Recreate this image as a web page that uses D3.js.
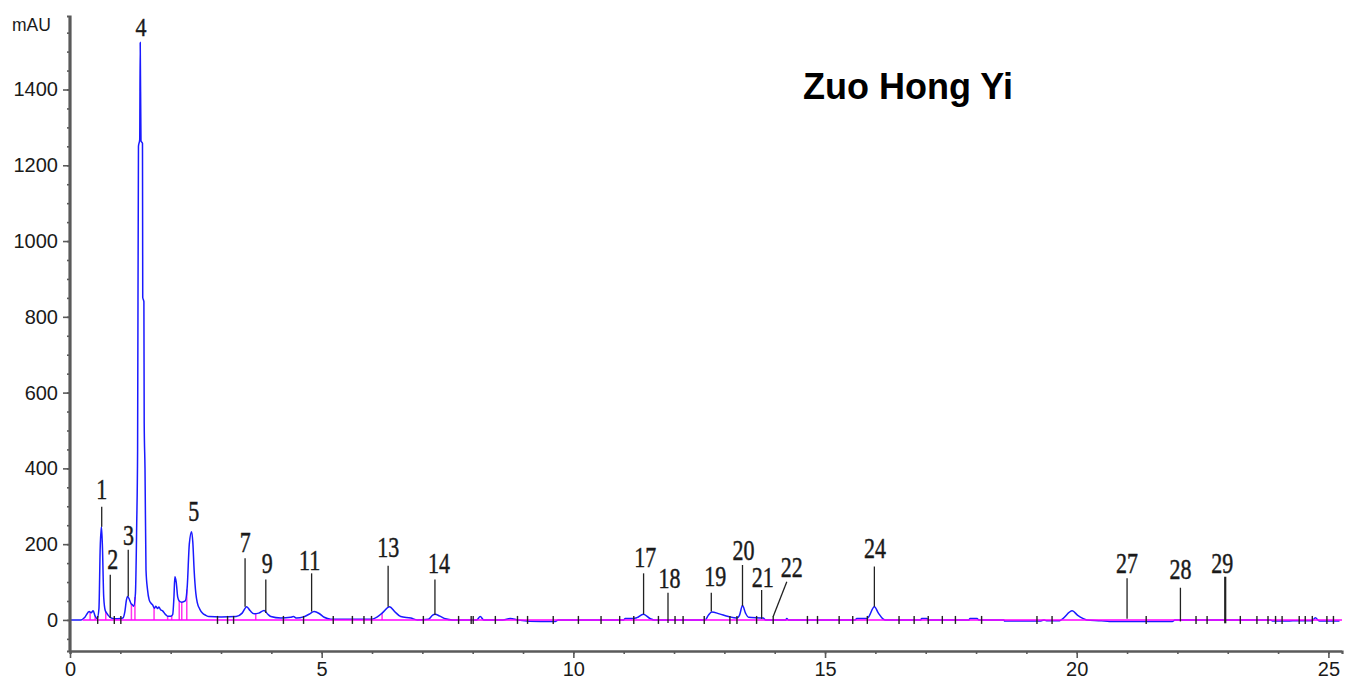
<!DOCTYPE html>
<html>
<head>
<meta charset="utf-8">
<script src="https://cdn.jsdelivr.net/npm/d3@7"></script>
<style>
  body { margin: 0; background: #fff; }
  .axis path, .axis line { stroke: #5a5a5a; }
  .axis text { font-family: "Liberation Sans", Arial, sans-serif; font-size: 20px; fill: #1a1a1a; }
</style>
</head>
<body>
<div id="chart"></div>
<script>
// chromatogram trace (minutes, mAU)
var retentionTime = [0, 0.22, 0.3, 0.38, 0.42, 0.46, 0.5, 0.54, 0.575, 0.6, 0.625, 0.645, 0.67, 0.7, 0.73, 0.76, 0.8, 0.85, 0.95,
  1.05, 1.09, 1.12, 1.145, 1.18, 1.21, 1.24, 1.265, 1.3, 1.325, 1.343, 1.36, 1.385, 1.395, 1.41, 1.44, 1.445, 1.468, 1.474, 1.49,
  1.51, 1.54, 1.573, 1.61, 1.64, 1.68, 1.706, 1.74, 1.766, 1.8, 1.84, 1.9, 1.94, 2.0, 2.04, 2.065, 2.083, 2.11, 2.14, 2.17, 2.22,
  2.29, 2.33, 2.37, 2.415, 2.44, 2.466, 2.5, 2.53, 2.58, 2.63, 2.7, 2.76, 3.0, 3.3, 3.42, 3.51, 3.58, 3.657, 3.75, 3.855, 3.93,
  3.99, 4.19, 4.38, 4.44, 4.5, 4.64, 4.75, 4.85, 4.95, 5.05, 5.18, 6.0, 6.105, 6.2, 6.35, 6.45, 6.57, 6.77, 6.9, 7.12, 7.2, 7.25,
  7.35, 7.46, 7.6, 8.08, 8.15, 8.22, 8.6, 8.75, 8.9, 9.35, 9.64, 9.7, 11.0, 11.03, 11.19, 11.26, 11.39, 11.53, 11.6, 12.62, 12.68,
  12.75, 12.9, 13.08, 13.25, 13.3, 13.36, 13.42, 13.48, 13.77, 13.82, 14.22, 14.24, 14.27, 15.6, 15.63, 15.83, 15.86, 15.98, 16.06,
  16.15, 16.2, 16.9, 16.92, 17.02, 17.05, 17.86, 17.88, 18.02, 18.05, 18.55, 18.57, 19.27, 19.35, 19.4, 19.66, 19.72, 19.91, 20.02,
  20.12, 20.2, 20.49, 20.65, 21.9, 21.95, 23.85, 23.89, 24.17, 24.29, 24.68, 24.74, 24.82, 25.22];
var absorbance = [0, 0, 8, 22, 19, 24, 10, 4, 30, 190, 246, 190, 60, 25, 18, 12, 7, 4, 3,
  5, 22, 52, 62, 54, 44, 40, 36, 70, 250, 449, 1250, 1268, 1524, 1264, 1258, 851, 840, 520, 400,
  132, 80, 53, 44, 40, 31, 36, 30, 34, 27, 24, 14, 10, 10, 14, 60, 114, 100, 60, 50, 47,
  50, 90, 200, 233, 205, 132, 70, 45, 28, 18, 12, 9, 8, 9, 18, 35, 24, 16, 18, 25, 15,
  9, 5, 7, 9, 5, 8, 15, 22, 17, 7, 2, 2, 8, 18, 35, 22, 9, 5, 0, 2, 12, 15,
  10, 3, 0, 0, 9, 0, 0, 4, 0, -4, -4, 0, 0, 4, 4, 6, 15, 3, 0, 0, 12,
  21, 16, 9, 5, 12, 38, 18, 7, 5, 0, 0, 4, 0, 0, 4, 4, 7, 35, 18,
  3, 0, 0, 4, 4, 0, 0, 4, 4, 0, 0, -3, -3, 0, -2, -2, 3, 24, 12,
  4, 0, -2, -4, -4, 0, 0, -3, -3, -2, -2, 6, -3, -3];

// integration marks on the baseline (minutes)
var integrationTicks = [0.55, 0.88, 1.01, 2.93, 3.13, 3.25, 4.24, 4.64, 5.23, 5.61, 5.84, 5.99, 7.02, 7.72, 7.97, 8.01,
  8.45, 8.89, 9.09, 9.6, 10.1, 10.55, 10.92, 11.2, 11.69, 12.02, 12.18, 12.6, 13.11, 13.25, 13.64, 13.97, 14.65, 14.85,
  15.28, 15.55, 15.84, 16.47, 16.77, 17.05, 17.33, 17.59, 18.11, 19.21, 19.51, 21.38, 22.37, 22.59, 23.25, 23.58,
  23.8, 23.95, 24.08, 24.42, 24.54, 24.68, 24.97, 25.1];
// pink drop lines between the early peaks (minutes)
var dropLines = [0.4, 0.5, 0.71, 1.22, 1.29, 1.67, 1.94, 2.02, 2.17, 2.22, 2.32, 3.69, 6.2];

// peak numbers and where their leader lines sit (minutes, mAU)
var peakNumbers   = ["1", "2", "3", "4", "5", "7", "9", "11", "13", "14", "17", "18", "19", "20", "21", "22", "24", "27", "28", "29"];
var labelTime     = [0.63, 0.85, 1.16, 1.41, 2.456, 3.48, 3.92, 4.76, 6.32, 7.33, 11.43, 11.91, 12.82, 13.38, 13.76, 14.34, 15.99, 21.0, 22.06, 22.89];
var labelMAU      = [320, 134, 198, 1540, 260, 180, 123, 132, 167, 123, 139, 84, 90, 157, 88, 114, 163, 123, 108, 125];
var leaderTopTime = [0.63, 0.8, 1.157, null, null, 3.478, 3.89, 4.8, 6.32, 7.25, 11.395, 11.88, 12.74, 13.36, 13.74, 14.24, 15.98, 21.0, 22.06, 22.95];
var leaderBotTime = [0.63, 0.8, 1.157, null, null, 3.478, 3.89, 4.8, 6.32, 7.25, 11.395, 11.88, 12.74, 13.36, 13.74, 13.97, 15.98, 21.0, 22.06, 22.95];
var leaderTop     = [299, 119, 185, null, null, 163, 107, 123, 143, 107, 123, 72, 72, 145, 79, 101, 141, 110, 85, 114];
var leaderBottom  = [246, 5, 62, null, null, 35, 18, 22, 35, 13, 15, -8, 22, 37, 3, 9, 35, 3, -4, -9];

var yTicks = [0, 200, 400, 600, 800, 1000, 1200, 1400];
var xTicks = [0, 5, 10, 15, 20, 25];

var visualize = function() {
  var width = 1353, height = 682;

  var svg = d3.select("#chart")
    .append("svg")
    .attr("width", width)
    .attr("height", height)
    .style("display", "block");

  var x = d3.scaleLinear().domain([0, 25.27]).range([70, 1342]);
  var y = d3.scaleLinear().domain([-82, 1594]).range([651, 16]);

  var trace = retentionTime.map(function(t, i) { return [t, absorbance[i]]; });
  var bisect = d3.bisector(function(d) { return d[0]; }).left;
  var valueAt = function(t) {
    var i = bisect(trace, t);
    if (i <= 0) return trace[0][1];
    var a = trace[i - 1], b = trace[i];
    return a[1] + (b[1] - a[1]) * (t - a[0]) / (b[0] - a[0]);
  };

  // pink drop lines
  svg.selectAll(".drop")
    .data(dropLines)
    .enter()
    .append("line")
    .attr("x1", function(d) { return x(d); })
    .attr("x2", function(d) { return x(d); })
    .attr("y1", y(0))
    .attr("y2", function(d) { return y(valueAt(d)); })
    .attr("stroke", "#ff33ee")
    .attr("stroke-width", 1.5);

  // the trace
  var line = d3.line()
    .x(function(d) { return x(d[0]); })
    .y(function(d) { return y(d[1]); })
    .curve(d3.curveMonotoneX);

  svg.append("path")
    .datum(trace)
    .attr("d", line)
    .attr("fill", "none")
    .attr("stroke", "#1a1aff")
    .attr("stroke-width", 1.5);

  // baseline
  svg.append("line")
    .attr("x1", x(0.25))
    .attr("x2", x(25.27))
    .attr("y1", y(0))
    .attr("y2", y(0))
    .attr("stroke", "#ff00ff")
    .attr("stroke-width", 1.5);

  // integration marks
  svg.selectAll(".imark")
    .data(integrationTicks)
    .enter()
    .append("line")
    .attr("x1", function(d) { return x(d); })
    .attr("x2", function(d) { return x(d); })
    .attr("y1", y(0) - 4)
    .attr("y2", y(0) + 4)
    .attr("stroke", "#222")
    .attr("stroke-width", 1.4);

  // leader lines
  var idx = d3.range(peakNumbers.length).filter(function(i) { return leaderTop[i] !== null; });
  svg.selectAll(".leader")
    .data(idx)
    .enter()
    .append("line")
    .attr("x1", function(i) { return x(leaderTopTime[i]); })
    .attr("x2", function(i) { return x(leaderBotTime[i]); })
    .attr("y1", function(i) { return y(leaderTop[i]); })
    .attr("y2", function(i) { return y(leaderBottom[i]); })
    .attr("stroke", "#222")
    .attr("stroke-width", function(i) { return peakNumbers[i] === "29" ? 2.2 : 1.3; });

  // peak numbers, narrow tall serif
  svg.selectAll(".peak")
    .data(peakNumbers)
    .enter()
    .append("text")
    .attr("transform", function(d, i) {
      var s = d === "4" ? 1.1 : 1.35;
      return "translate(" + x(labelTime[i]) + "," + y(labelMAU[i]) + ") scale(1," + s + ")";
    })
    .attr("text-anchor", "middle")
    .attr("font-family", "'Liberation Serif', 'Times New Roman', serif")
    .attr("font-size", function(d) { return d === "4" ? "22px" : "22px"; })
    .attr("fill", "#1a1a1a")
    .attr("stroke", "#1a1a1a")
    .attr("stroke-width", 0.35)
    .text(function(d) { return d; });

  // axes
  var yAxis = d3.axisLeft(y).tickValues(yTicks).tickSize(7).tickPadding(5).tickFormat(d3.format("d"));
  var yMinor = d3.axisLeft(y).tickValues(d3.range(-50, 1594, 50)).tickSize(3).tickFormat("");
  var xAxis = d3.axisBottom(x).tickValues(xTicks).tickSize(7).tickPadding(4).tickFormat(d3.format("d"));
  var xMinor = d3.axisBottom(x).tickValues(d3.range(0, 26, 1)).tickSize(3).tickFormat("");

  svg.append("g").attr("class", "axis").attr("transform", "translate(70,0)").call(yMinor);
  var gy = svg.append("g").attr("class", "axis").attr("transform", "translate(70,0)").call(yAxis);
  svg.append("g").attr("class", "axis").attr("transform", "translate(0,651)").call(xMinor);
  var gx = svg.append("g").attr("class", "axis").attr("transform", "translate(0,651)").call(xAxis);

  svg.selectAll(".axis .domain").attr("stroke-width", 2.2);
  svg.selectAll(".axis .tick line").attr("stroke-width", 1.6);
  gy.select(".domain").attr("d", "M-0.5," + y(1594) + "V" + y(-82));
  gx.select(".domain").attr("d", "M70,0.5H1342");

  svg.append("text")
    .attr("x", 12)
    .attr("y", 31)
    .attr("font-family", "'Liberation Sans', Arial, sans-serif")
    .attr("font-size", "17.5px")
    .attr("fill", "#1a1a1a")
    .text("mAU");

  svg.append("text")
    .attr("x", 803)
    .attr("y", 99)
    .attr("font-family", "'Liberation Sans', Arial, sans-serif")
    .attr("font-weight", "bold")
    .attr("font-size", "36px")
    .attr("fill", "#000")
    .text("Zuo Hong Yi");
};

visualize();
</script>
</body>
</html>
